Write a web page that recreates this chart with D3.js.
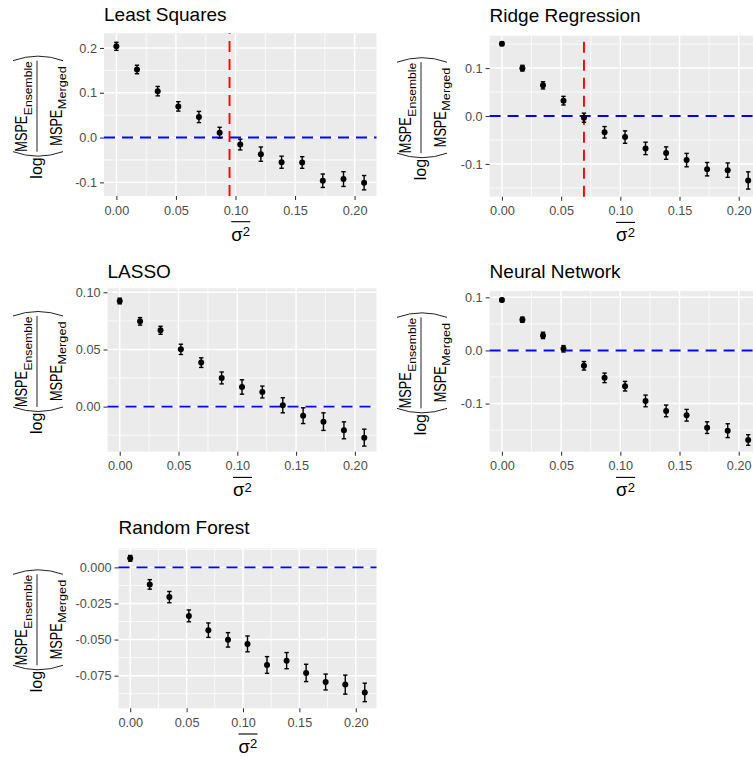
<!DOCTYPE html>
<html><head><meta charset="utf-8">
<script src="https://cdn.jsdelivr.net/npm/d3@7/dist/d3.min.js"></script>
<style>body{margin:0;background:#fff}svg{display:block}</style>
</head><body>
<svg id="c" width="753" height="758"></svg>
<script>
// ---- data ----
const sigma2 = [0, 0.0173, 0.0347, 0.052, 0.0693, 0.0867, 0.104, 0.1213, 0.1387, 0.156, 0.1733, 0.1907, 0.208];
const titles = ["Least Squares", "Ridge Regression", "LASSO", "Neural Network", "Random Forest"];

const lsMean    = [0.2036, 0.152, 0.1036, 0.0696, 0.0459, 0.011, -0.0156, -0.037, -0.055, -0.0556, -0.0963, -0.0926, -0.1007];
const lsErr     = [0.009, 0.0095, 0.0105, 0.0105, 0.0125, 0.012, 0.012, 0.016, 0.0135, 0.013, 0.015, 0.0165, 0.016];
const ridgeMean = [0.151, 0.0998, 0.064, 0.032, -0.0035, -0.034, -0.044, -0.0676, -0.0774, -0.092, -0.111, -0.113, -0.1345];
const ridgeErr  = [0.004, 0.006, 0.0075, 0.009, 0.0095, 0.012, 0.013, 0.013, 0.013, 0.014, 0.014, 0.015, 0.018];
const lassoMean = [0.0924, 0.0746, 0.0668, 0.0501, 0.0385, 0.0251, 0.0172, 0.0128, 0.0012, -0.0079, -0.0131, -0.0207, -0.0271];
const lassoErr  = [0.0025, 0.0033, 0.0035, 0.0045, 0.0042, 0.0052, 0.0063, 0.0052, 0.0066, 0.0069, 0.0077, 0.0074, 0.0074];
const nnMean    = [0.095, 0.0579, 0.0283, 0.0031, -0.0289, -0.0516, -0.0673, -0.095, -0.1138, -0.122, -0.1453, -0.151, -0.1686];
const nnErr     = [0.003, 0.005, 0.006, 0.006, 0.008, 0.009, 0.009, 0.011, 0.011, 0.011, 0.011, 0.013, 0.01];
const rfMean    = [0.00625, -0.0118, -0.0206, -0.0336, -0.0435, -0.0502, -0.053, -0.0676, -0.0646, -0.0731, -0.0794, -0.0812, -0.0866];
const rfErr     = [0.002, 0.0033, 0.0039, 0.0041, 0.005, 0.005, 0.0055, 0.0058, 0.0056, 0.006, 0.0055, 0.0066, 0.0064];

const means = [lsMean, ridgeMean, lassoMean, nnMean, rfMean];
const errs  = [lsErr, ridgeErr, lassoErr, nnErr, rfErr];
const cutoffs = [0.095, 0.0693, null, null, null];

const xTicks = [0, 0.05, 0.10, 0.15, 0.20];
const xTickLabels = ["0.00", "0.05", "0.10", "0.15", "0.20"];
const yTicks = [
  [-0.1, 0, 0.1, 0.2],
  [-0.1, 0, 0.1],
  [0, 0.05, 0.10],
  [-0.1, 0, 0.1],
  [-0.075, -0.05, -0.025, 0]
];
const yTickLabels = [
  ["-0.1", "0.0", "0.1", "0.2"],
  ["-0.1", "0.0", "0.1"],
  ["0.00", "0.05", "0.10"],
  ["-0.1", "0.0", "0.1"],
  ["-0.075", "-0.050", "-0.025", "0.000"]
];
const yDomains = [
  [-0.1304, 0.2327],
  [-0.1684, 0.1676],
  [-0.0394, 0.1035],
  [-0.1906, 0.1119],
  [-0.0976, 0.0132]
];
const xDomain = [-0.0104, 0.2184];

// ---- layout ----
const FONT = "'Liberation Sans', Arial, Helvetica, sans-serif";
const panels = [
  {cellX: 0,   left: 104,   right: 376.5, top: 33.3,  bottom: 196,   titleY: 20.7},
  {cellX: 384, left: 489.6, right: 760.5, top: 35.7,  bottom: 196.7, titleY: 21.6},
  {cellX: 0,   left: 107.5, right: 376.5, top: 288.3, bottom: 451.7, titleY: 278},
  {cellX: 384, left: 489.6, right: 760.5, top: 291,   bottom: 451.7, titleY: 278},
  {cellX: 0,   left: 118.5, right: 376.5, top: 548.3, bottom: 708.3, titleY: 534.3}
];

const svg = d3.select("#c");

function minorBreaks(major, dom) {
  const step = major[1] - major[0];
  const out = [];
  const lo = d3.min(major) - step, hi = d3.max(major) + step;
  for (let v = lo; v < hi + 1e-9; v += step) {
    const m = v + step / 2;
    if (m >= dom[0] && m <= dom[1]) out.push(m);
  }
  return out;
}

panels.forEach((p, i) => {
  const x = d3.scaleLinear().domain(xDomain).range([p.left, p.right]);
  const y = d3.scaleLinear().domain(yDomains[i]).range([p.bottom, p.top]);
  const g = svg.append("g");

  g.append("rect").attr("x", p.left).attr("y", p.top)
    .attr("width", p.right - p.left).attr("height", p.bottom - p.top)
    .attr("fill", "#EBEBEB");

  // minor grid
  minorBreaks(xTicks, xDomain).forEach(v => {
    g.append("line").attr("x1", x(v)).attr("x2", x(v)).attr("y1", p.top).attr("y2", p.bottom)
      .attr("stroke", "#fff").attr("stroke-width", 0.75);
  });
  minorBreaks(yTicks[i], yDomains[i]).forEach(v => {
    g.append("line").attr("y1", y(v)).attr("y2", y(v)).attr("x1", p.left).attr("x2", p.right)
      .attr("stroke", "#fff").attr("stroke-width", 0.75);
  });
  // major grid
  xTicks.forEach(v => {
    g.append("line").attr("x1", x(v)).attr("x2", x(v)).attr("y1", p.top).attr("y2", p.bottom)
      .attr("stroke", "#fff").attr("stroke-width", 1.45);
  });
  yTicks[i].forEach(v => {
    g.append("line").attr("y1", y(v)).attr("y2", y(v)).attr("x1", p.left).attr("x2", p.right)
      .attr("stroke", "#fff").attr("stroke-width", 1.45);
  });

  // axes
  const ya = g.append("g").attr("transform", `translate(${p.left},0)`)
    .call(d3.axisLeft(y).tickValues(yTicks[i]).tickFormat((d, k) => yTickLabels[i][k])
      .tickSize(4).tickPadding(3));
  const xa = g.append("g").attr("transform", `translate(0,${p.bottom})`)
    .call(d3.axisBottom(x).tickValues(xTicks).tickFormat((d, k) => xTickLabels[k])
      .tickSize(4).tickPadding(5.5));
  [ya, xa].forEach(a => {
    a.select(".domain").remove();
    a.selectAll(".tick line").attr("stroke", "#333333").attr("stroke-width", 1.05);
    a.selectAll(".tick text").attr("fill", "#4D4D4D").style("font-family", FONT).style("font-size", "12.7px");
  });

  // reference lines
  g.append("line").attr("x1", p.left).attr("x2", p.right).attr("y1", y(0)).attr("y2", y(0))
    .attr("stroke", "#0000FF").attr("stroke-width", 1.9).attr("stroke-dasharray", "11,7");
  if (cutoffs[i] !== null) {
    g.append("line").attr("x1", x(cutoffs[i])).attr("x2", x(cutoffs[i]))
      .attr("y1", p.bottom).attr("y2", p.top)
      .attr("stroke", "#FF0000").attr("stroke-width", 1.9).attr("stroke-dasharray", "11,7");
  }

  // error bars + points
  const rows = sigma2.map((s, k) => ({s, m: means[i][k], e: errs[i][k]}));
  const eb = g.append("g").attr("stroke", "#000").attr("stroke-width", 1.4);
  rows.forEach(d => {
    eb.append("line").attr("x1", x(d.s)).attr("x2", x(d.s)).attr("y1", y(d.m - d.e)).attr("y2", y(d.m + d.e));
    eb.append("line").attr("x1", x(d.s) - 2.2).attr("x2", x(d.s) + 2.2).attr("y1", y(d.m - d.e)).attr("y2", y(d.m - d.e));
    eb.append("line").attr("x1", x(d.s) - 2.2).attr("x2", x(d.s) + 2.2).attr("y1", y(d.m + d.e)).attr("y2", y(d.m + d.e));
  });
  g.append("g").selectAll("circle").data(rows).join("circle")
    .attr("cx", d => x(d.s)).attr("cy", d => y(d.m)).attr("r", 3).attr("fill", "#000");

  // title
  g.append("text").attr("x", p.left).attr("y", p.titleY).text(titles[i])
    .style("font-family", FONT).style("font-size", "19px").attr("fill", "#000");

  // x axis title: bar over sigma^2
  const cx = (p.left + p.right) / 2;
  const xt = g.append("g").attr("transform", `translate(${cx},${p.bottom})`);
  xt.append("line").attr("x1", -9).attr("x2", 10).attr("y1", 25.7).attr("y2", 25.7)
    .attr("stroke", "#000").attr("stroke-width", 1.1);
  xt.append("text").attr("x", -9).attr("y", 44.5).text("σ")
    .style("font-family", FONT).style("font-size", "18.5px").attr("fill", "#000");
  xt.append("text").attr("x", 2.6).attr("y", 40).text("2")
    .style("font-family", FONT).style("font-size", "13px").attr("fill", "#000");

  // y axis title: log( MSPE_Ensemble / MSPE_Merged ), rotated
  const cy = (p.top + p.bottom) / 2;
  const yt = g.append("g").attr("transform", `translate(${p.cellX + 37},${cy}) rotate(-90)`)
    .attr("fill", "#000").style("font-family", FONT);
  yt.append("text").attr("x", -64).attr("y", 5).text("log").style("font-size", "16px");
  yt.append("path").attr("d", "M-37,-24 Q-46,1 -37,26").attr("fill", "none").attr("stroke", "#222").attr("stroke-width", 1);
  yt.append("path").attr("d", "M54,-24 Q63,1 54,26").attr("fill", "none").attr("stroke", "#222").attr("stroke-width", 1);
  yt.append("line").attr("x1", -37).attr("x2", 54).attr("y1", 0).attr("y2", 0).attr("stroke", "#222").attr("stroke-width", 1);
  // numerator
  yt.append("text").attr("x", -37).attr("y", -10).text("MSPE").style("font-size", "17px")
    .attr("textLength", 36).attr("lengthAdjust", "spacingAndGlyphs");
  yt.append("text").attr("x", -0.5).attr("y", -5.5).text("Ensemble").style("font-size", "11px")
    .attr("textLength", 54).attr("lengthAdjust", "spacingAndGlyphs");
  // denominator
  yt.append("text").attr("x", -31).attr("y", 25).text("MSPE").style("font-size", "17px")
    .attr("textLength", 36).attr("lengthAdjust", "spacingAndGlyphs");
  yt.append("text").attr("x", 5.5).attr("y", 29).text("Merged").style("font-size", "11px")
    .attr("textLength", 43).attr("lengthAdjust", "spacingAndGlyphs");
});
</script>
</body></html>
